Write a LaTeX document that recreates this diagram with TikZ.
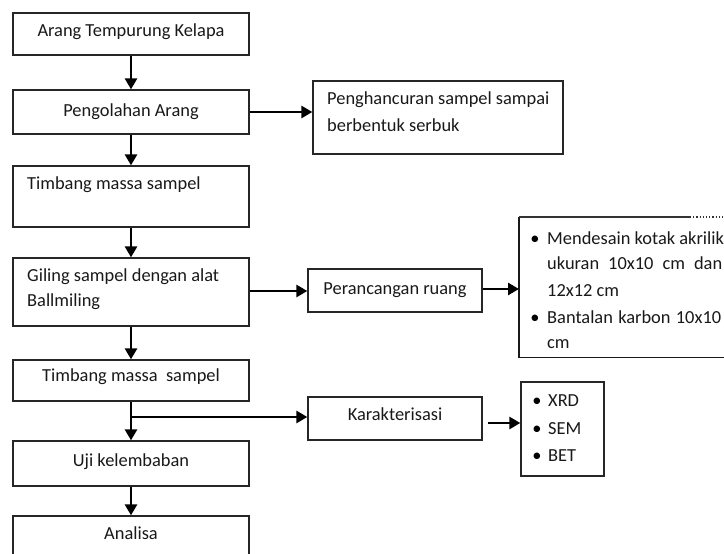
\documentclass[tikz,border=0pt]{standalone}
\usepackage{fontspec}
\setmainfont{Carlito}
\usetikzlibrary{arrows.meta}
\newcommand\txtfont{\fontsize{18.4}{21}\selectfont}
\begin{document}
\begin{tikzpicture}[x=1pt,y=-1pt,
  box/.style={draw=black!85, line width=1.3pt, inner sep=0pt, minimum width=236pt},
  sbox/.style={draw=black!85, line width=1.3pt, inner sep=0pt},
  txt/.style={inner sep=0pt, font=\txtfont, text=black!90},
  bul/.style={inner sep=0pt, font=\txtfont},
  arr/.style={line width=2.8pt, -{Triangle[length=11pt,width=12pt]}},
]
\clip (0,0) rectangle (724,554);
\fill[white] (0,0) rectangle (724,554);

% main column boxes
\node[box, minimum height=42pt] (b1) at (131,34) {};
\node[box, minimum height=44pt] (b2) at (131,112) {};
\node[box, minimum height=61pt] (b3) at (131,196.5) {};
\node[box, minimum height=68pt] (b4) at (131,292) {};
\node[box, minimum height=41pt] (b5) at (131,380.5) {};
\node[box, minimum height=45pt] (b6) at (131,463.5) {};
\node[box, minimum height=48pt] (b7) at (131,540) {};

\node[txt, anchor=base] (t1) at (131,36) {Arang Tempurung Kelapa};
\node[txt, anchor=base] (t2) at (131,116.5) {Pengolahan Arang};
\node[txt, anchor=base west] (t3) at (27,189) {Timbang massa sampel};
\node[txt, anchor=base west] (t4a) at (27,281.7) {Giling sampel dengan alat};
\node[txt, anchor=base west] (t4b) at (27,306.7) {Ballmiling};
\node[txt, anchor=base] (t5) at (131,381.7) {Timbang massa\ \ sampel};
\node[txt, anchor=base] (t6) at (131,466.5) {Uji kelembaban};
\node[txt, anchor=base] (t7) at (131,539) {Analisa};

% side boxes
\node[sbox, minimum width=250pt, minimum height=73pt] (pg) at (438,117.5) {};
\node[txt, anchor=base west] (tpg1) at (327,104.3) {Penghancuran sampel sampai};
\node[txt, anchor=base west] (tpg2) at (327,131.7) {berbentuk serbuk};

\node[sbox, minimum width=174pt, minimum height=43pt] (per) at (395,290.5) {};
\node[txt, anchor=base] (tper) at (395,294) {Perancangan ruang};

\node[sbox, minimum width=174pt, minimum height=43pt] (kar) at (395,418.5) {};
\node[txt, anchor=base] (tkar) at (395,420.5) {Karakterisasi};

\node[sbox, minimum width=83pt, minimum height=94pt] (xrd) at (562.5,429) {};
\node[bul, anchor=base] (bx1) at (537,406.7) {•};
\node[txt, anchor=base west] (tx1) at (548,406.7) {XRD};
\node[bul, anchor=base] (bx2) at (537,434) {•};
\node[txt, anchor=base west] (tx2) at (548,434) {SEM};
\node[bul, anchor=base] (bx3) at (537,461.7) {•};
\node[txt, anchor=base west] (tx3) at (548,461.7) {BET};

% big (cut-off) box
\node[inner sep=0pt, minimum width=261pt, minimum height=140pt, anchor=north west] (big) at (519,217) {};
\draw[line width=1.8pt, black!90] (big.north west) -- (big.south west) -- (big.south east);
\coordinate (dotstart) at (690,217);
\draw[line width=1.2pt, black!80] (big.north west) -- (dotstart);
\draw[line width=1.2pt, black!80, dotted] (dotstart) -- (big.north east);
\node[bul, anchor=base] (bb1) at (535,244) {•};
\node[txt, anchor=base west] (tb1) at (547,244) {Mendesain kotak akrilik};
\node[txt, anchor=base west] (tb2) at (547,269.3) {\makebox[175pt][s]{ukuran 10x10 cm dan}};
\node[txt, anchor=base west] (tb3) at (547,296) {12x12 cm};
\node[bul, anchor=base] (bb2) at (535,323.3) {•};
\node[txt, anchor=base west] (tb4) at (547,323.3) {\makebox[174pt][s]{Bantalan karbon 10x10}};
\node[txt, anchor=base west] (tb5) at (547,348.3) {cm};

% arrows
\draw[arr] (b1) -- (b2);
\draw[arr] (b2) -- (b3);
\draw[arr] (b3) -- (b4);
\draw[arr] (b4) -- (b5);
\draw[arr] (b5) -- (b6);
\draw[arr] (b6) -- (b7);
\draw[arr] (b2.east) -- (b2.east -| pg.west);
\draw[arr] ([yshift=1pt]b4.east) -- ([yshift=1pt]b4.east -| per.west);
\draw[arr] ([yshift=1.5pt]per.east) -- ([yshift=1.5pt]per.east -| big.west);
\coordinate (br) at (131,417);
\draw[arr] (br) -- (br -| kar.west);
\draw[arr] ([xshift=5pt,yshift=-4.5pt]kar.east) -- ([yshift=-4.5pt]kar.east -| xrd.west);
\end{tikzpicture}
\end{document}
